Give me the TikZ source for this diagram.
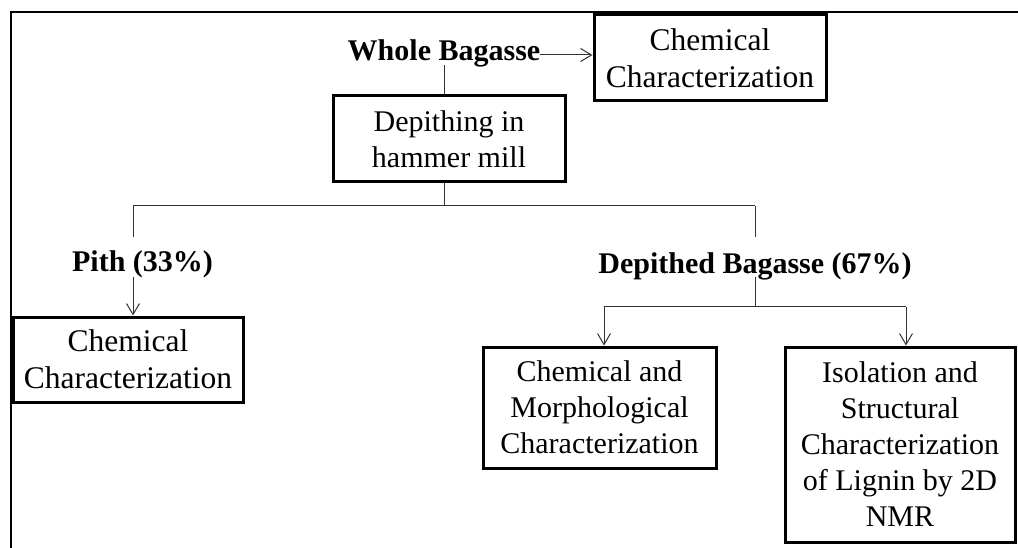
\documentclass[tikz,border=0pt]{standalone}
\usepackage{fontspec}
\setmainfont{Liberation Serif}
\usetikzlibrary{arrows.meta}

\begin{document}
\begin{tikzpicture}[x=1pt,y=-1pt,
  every node/.style={font=\fontsize{30}{36}\selectfont},
  stagebox/.style={draw=black,line width=3pt,align=center,inner sep=0pt},
  widebox/.style={stagebox,font=\fontsize{31.5}{37}\selectfont},
  label/.style={font=\fontsize{30}{36}\selectfont\bfseries,inner sep=0pt,anchor=base},
  link/.style={draw=black!80,line width=1pt},
  arrowlink/.style={link,-{Straight Barb[length=11pt,width=13pt]}}
]
\useasboundingbox (0,0) rectangle (1018,548);
\fill[white] (0,0) rectangle (1018,548);

% open frame (top and left edges)
\draw[line width=2pt] (11,548) -- (11,12) -- (1018,12);

% boxes
\node[widebox,minimum width=232pt,minimum height=86pt] (cc1) at (710,58)
  {Chemical\\Characterization};
\node[stagebox,minimum width=232pt,minimum height=86pt] (dep) at (449,139)
  {Depithing in\\hammer mill};
\node[widebox,minimum width=230pt,minimum height=85pt] (pbox) at (128,359.5)
  {Chemical\\Characterization};
\node[stagebox,minimum width=233pt,minimum height=121pt] (b1) at (599.5,407.5)
  {Chemical and\\Morphological\\Characterization};
\node[stagebox,minimum width=230pt,minimum height=195pt] (b2) at (900,444.5)
  {Isolation and\\Structural\\Characterization\\of Lignin by 2D\\NMR};

% bold labels
\node[label,text height=21pt,text depth=4pt] (wb) at (444,61) {Whole Bagasse};
\node[label,text height=35pt,text depth=5pt] (pl) at (142.5,272) {Pith (33\%)};
\node[label,text height=36pt,text depth=4pt] (db) at (755,273) {Depithed Bagasse (67\%)};

% split points
\coordinate (ts) at (444,206);
\coordinate (pd) at (133,206);
\coordinate (rd) at (755,206);
\coordinate (ls) at (755,307);
\coordinate (lsl) at (604,307);
\coordinate (lsr) at (906,307);

% connectors
\draw[arrowlink] ([yshift=-2.5pt]wb.east) -- ([yshift=-2.5pt]wb.east -| cc1.west);
\draw[link] (wb.south) -- (wb.south |- dep.north);
\draw[link] (ts |- dep.south) -- (ts);
\draw[link] (pd) -- (rd);
\draw[link] (pd) -- (pd |- pl.north);
\draw[arrowlink] (pd |- pl.south) -- (pd |- pbox.north);
\draw[link] (rd) -- (rd |- db.north);
\draw[link] (db.south) -- (ls);
\draw[link] (lsl) -- (lsr);
\draw[arrowlink] (lsl) -- (lsl |- b1.north);
\draw[arrowlink] (lsr) -- (lsr |- b2.north);
\end{tikzpicture}
\end{document}
